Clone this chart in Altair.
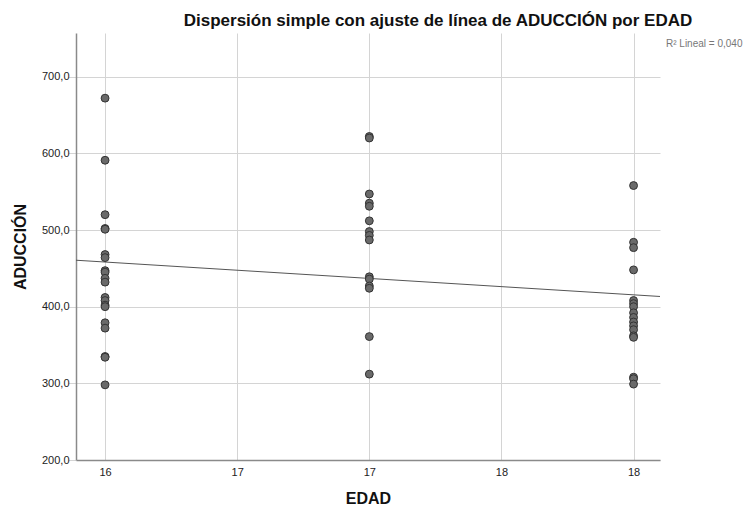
import altair as alt
import pandas as pd

# --- data ---
edad_16 = [672, 591, 520, 502, 501, 468, 464, 447, 445, 437, 432, 412, 408, 402, 400, 379, 372, 335, 334, 298]
edad_17 = [622, 620, 547, 535, 531, 512, 498, 493, 487, 439, 436, 427, 424, 361, 312]
edad_18 = [558, 484, 477, 448, 408, 404, 400, 392, 386, 380, 375, 370, 362, 360, 308, 306, 299]
ages = [16, 17, 18]
x_ticks = [16, 16.5, 17, 17.5, 18]
y_ticks = [200, 300, 400, 500, 600, 700]
r2_label = ["R\u00b2 Lineal = 0,040"]
title_text = "Dispersi\u00f3n simple con ajuste de l\u00ednea de ADUCCI\u00d3N por EDAD"

rows = []
for age, vals in zip(ages, [edad_16, edad_17, edad_18]):
    for v in vals:
        rows.append({"EDAD": age, "ADUCCION": v})
df = pd.DataFrame(rows)

FONT = "Liberation Sans"
x_dom = [15.89, 18.10]
y_dom = [200, 757]

x_enc = alt.X(
    "EDAD:Q",
    scale=alt.Scale(domain=x_dom, nice=False, zero=False),
    axis=alt.Axis(
        values=x_ticks,
        labelExpr="format(datum.value, '.0f')",
        title="EDAD",
        grid=True,
        ticks=False,
        labelPadding=6,
        titlePadding=13,
    ),
)
y_enc = alt.Y(
    "ADUCCION:Q",
    scale=alt.Scale(domain=y_dom, nice=False, zero=False),
    axis=alt.Axis(
        values=y_ticks,
        labelExpr="replace(format(datum.value, '.1f'), '.', ',')",
        title="ADUCCI\u00d3N",
        grid=True,
        ticks=True,
        tickSize=8,
        tickColor="#d4d4d4",
        labelPadding=-1,
        titlePadding=13,
    ),
)

base = alt.Chart(df)

points = base.mark_circle(
    size=62, color="#6a6a6a", stroke="#333333", strokeWidth=1, opacity=1
).encode(x=x_enc, y=y_enc)

fit = base.transform_regression(
    "EDAD", "ADUCCION", extent=x_dom
).mark_line(color="#555555", strokeWidth=1).encode(x=x_enc, y=y_enc)

r2 = alt.Chart(pd.DataFrame({"t": r2_label})).mark_text(
    align="left", baseline="middle", fontSize=10, color="#777777", font=FONT
).encode(x=alt.value(590), y=alt.value(11), text="t:N")

chart = alt.layer(fit, points, r2).properties(
    width=584,
    height=427,
    title=alt.TitleParams(
        title_text, fontSize=17, fontWeight="bold", font=FONT, color="#111111",
        anchor="middle", dx=70, offset=3,
    ),
    autosize=alt.AutoSizeParams(type="none"),
    padding={"left": 76, "top": 33, "right": 91, "bottom": 51},
).configure_view(stroke=None).configure_axis(
    labelFont=FONT,
    labelFontSize=11,
    labelColor="#222222",
    titleFont=FONT,
    titleFontSize=16,
    titleFontWeight="bold",
    titleColor="#111111",
    gridColor="#d4d4d4",
    gridWidth=1,
    domainColor="#8a8a8a",
    domainWidth=1.5,
)

chart.save("out.html", embed_options={"renderer": "svg", "actions": False})
